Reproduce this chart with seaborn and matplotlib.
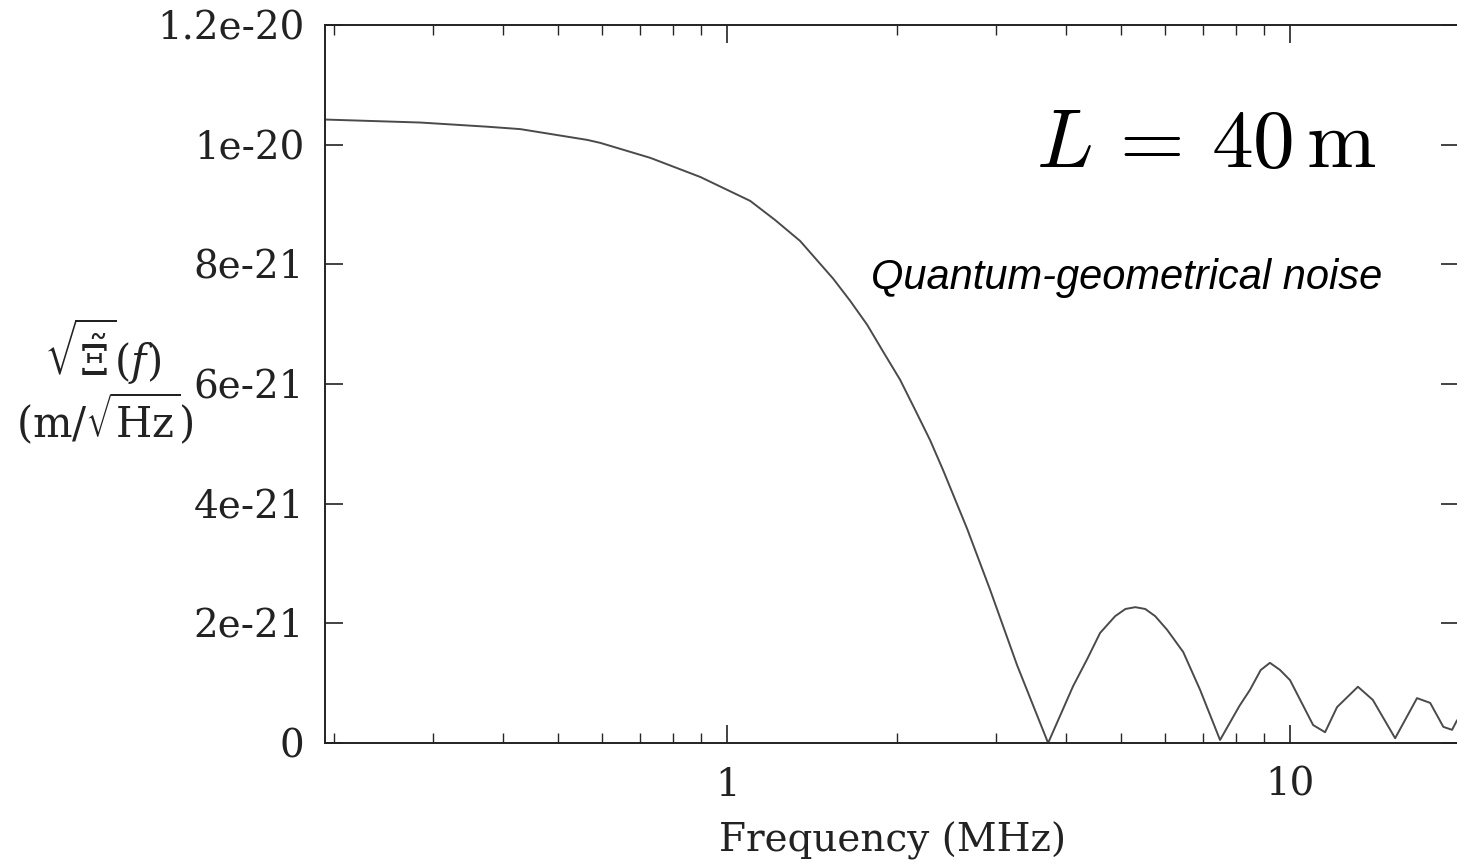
import numpy as np
import pandas as pd
import matplotlib
matplotlib.use("Agg")
import matplotlib.pyplot as plt
import seaborn as sns
from matplotlib.ticker import FixedLocator, FixedFormatter, NullFormatter

# curve: frequency in MHz, amplitude in units of 1e-21 m/sqrt(Hz)
freq_mhz = [0.193, 0.285, 0.375, 0.429, 0.564, 0.595, 0.730, 0.896, 1.099, 1.217,
            1.348, 1.543, 1.654, 1.773, 1.893, 2.029, 2.157, 2.294, 2.419, 2.669,
            2.932, 3.274, 3.717,
            4.117, 4.36, 4.598, 4.89, 5.10, 5.31, 5.53, 5.76, 6.05, 6.46, 6.92, 7.51,
            8.13, 8.49, 8.87, 9.21, 9.60, 10.0, 10.99, 11.54, 12.12, 13.20, 14.03,
            15.37, 16.81, 17.74, 18.72, 19.40, 19.80]
amp_e21 = [10.42, 10.37, 10.30, 10.26, 10.08, 10.03, 9.78, 9.46, 9.06, 8.74,
           8.39, 7.76, 7.39, 6.99, 6.54, 6.07, 5.57, 5.06, 4.56, 3.58,
           2.56, 1.30, 0.0,
           0.95, 1.40, 1.84, 2.12, 2.24, 2.27, 2.24, 2.12, 1.89, 1.52, 0.89, 0.05,
           0.62, 0.89, 1.22, 1.34, 1.22, 1.05, 0.30, 0.18, 0.60, 0.94, 0.72,
           0.08, 0.75, 0.67, 0.27, 0.22, 0.38]

x_major = [1, 10]
x_major_labels = ["1", "10"]
x_minor = [0.2, 0.3, 0.4, 0.5, 0.6, 0.7, 0.8, 0.9, 2, 3, 4, 5, 6, 7, 8, 9, 20]
y_ticks = [0, 2e-21, 4e-21, 6e-21, 8e-21, 1e-20, 1.2e-20]
y_tick_labels = ["0", "2e-21", "4e-21", "6e-21", "8e-21", "1e-20", "1.2e-20"]

df = pd.DataFrame({"f": freq_mhz, "amp": np.array(amp_e21) * 1e-21})

sns.set_style("ticks")
plt.rcParams["font.family"] = ["DejaVu Serif"]
plt.rcParams["mathtext.fontset"] = "dejavuserif"

W, H = 1457, 864
fig = plt.figure(figsize=(W / 100, H / 100), dpi=100)
ax_left, ax_right, ax_top, ax_bot = 325, 1459.5, 25, 743
ax = fig.add_axes([ax_left / W, (H - ax_bot) / H, (ax_right - ax_left) / W, (ax_bot - ax_top) / H])

sns.lineplot(data=df, x="f", y="amp", ax=ax, color="#4a4a4a", lw=1.4)

ax.set_xscale("log")
ax.set_xlim(0.193, 20)
ax.set_ylim(0, 1.2e-20)

ax.xaxis.set_major_locator(FixedLocator(x_major))
ax.xaxis.set_major_formatter(FixedFormatter(x_major_labels))
ax.xaxis.set_minor_locator(FixedLocator(x_minor))
ax.xaxis.set_minor_formatter(NullFormatter())
ax.yaxis.set_major_locator(FixedLocator(y_ticks))
ax.yaxis.set_major_formatter(FixedFormatter(y_tick_labels))

ax.tick_params(axis="both", which="major", direction="in", length=13, width=1.2,
               top=True, right=True, labelsize=28, colors="#222222")
ax.tick_params(axis="x", which="major", pad=17)
ax.tick_params(axis="y", which="major", pad=15)
ax.tick_params(axis="both", which="minor", direction="in", length=7, width=1.0,
               top=True, right=True)
for s in ax.spines.values():
    s.set_linewidth(1.4)
    s.set_color("#222222")
    s.set_visible(True)

ax.set_xlabel("Frequency (MHz)", fontsize=28, color="#222222", labelpad=13)
ax.set_ylabel("")

fig.text(103 / W, 1 - 352 / H, r"$\sqrt{\tilde{\Xi}}(f)$", fontsize=30,
         ha="center", va="center", color="#222222")
fig.text(105 / W, 1 - 418 / H, r"$(\mathrm{m}/\sqrt{\mathrm{Hz}})$", fontsize=30,
         ha="center", va="center", color="#222222")

ax.text(1377 / W, 1 - 167 / H, r"$L\,=\,40\,\mathrm{m}$", transform=fig.transFigure,
        fontsize=60, ha="right", va="baseline", math_fontfamily="cm", color="black")
ax.text(1127 / W, 1 - 278 / H, "Quantum-geometrical noise", transform=fig.transFigure,
        fontsize=30, ha="center", va="center", style="italic",
        family="Liberation Sans", color="black")

fig.savefig("out.png", dpi=100)
